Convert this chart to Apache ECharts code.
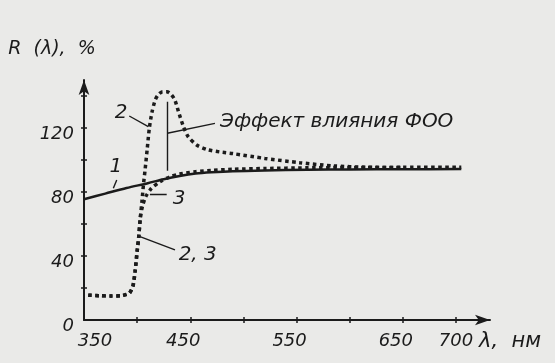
<!DOCTYPE html>
<html><head><meta charset="utf-8">
<script src="https://cdn.jsdelivr.net/npm/echarts@6/dist/echarts.min.js"></script>
<style>html,body{margin:0;padding:0;background:#eaeae8}#c{width:555px;height:363px}</style>
</head><body><div id="c"></div>
<script>
// ---- data ----
const xTickValues = [400, 450, 500, 550, 600, 650, 700];
const xLabelValues = [350, 450, 550, 650, 700];
const yTickValues = [20, 40, 60, 80, 100, 120, 140];
const yLabelValues = [0, 40, 80, 120];

// curve 1 (solid)
const curve1 = [[350,75.5],[370,79],[390,82.5],[410,85.5],[425,88],[440,90],[455,91.5],[470,92.3],[490,93],[520,93.5],[560,93.9],[600,94.1],[650,94.2],[705,94.3]];
// curve 2 (dotted, with peak)
const curve2 = [[354,15.5],[365,15.2],[375,15],[385,15.2],[390,16],[393,17],[396,21],[398,30],[400,43],[401.5,52],[403,64],[404.5,74],[406,85],[407.5,94],[409.5,107],[411.5,120],[414,130],[417,137.5],[420,141],[424,142.7],[428,142.7],[432,141],[435.5,137.5],[439,130],[443.5,121],[448,114.6],[456,109.4],[466,106.5],[478,105],[490,104],[520,101],[553,98.3],[585,96.3],[615,95.5],[650,95.3]];
// curve 3 (dotted, joins curve 1)
const curve3 = [[354,15.5],[365,15.2],[375,15],[385,15.2],[390,16],[393,17],[396,21],[398,30],[400,43],[401.5,52],[403,64],[405,71],[408,77],[413.5,82.3],[421.5,86.4],[431,89.5],[440,91.2],[455,92.7],[470,93.5],[490,94.2],[520,94.7],[560,95.1],[600,95.3],[650,95.4],[705,95.5]];

const annotations = [
  {text: '1', at: [380, 96]},
  {text: '2', at: [385, 129.5]},
  {text: '3', at: [439.5, 76]},
  {text: '2, 3', at: [457, 41]},
  {text: 'Эффект влияния ФОО', at: [478, 124], left: true}
];
const leaders = [
  [[380.8, 87.5], [377.6, 82.3]],
  [[392.6, 127.5], [410.5, 120.8]],
  [[412, 78.6], [427.8, 78.7]],
  [[402.7, 52.1], [435.6, 43.8]],
  [[428.4, 93.3], [428.4, 136.4]],
  [[428.4, 116.7], [473.2, 122.9]]
];

// ---- chart ----
const ink = '#1b1b1b';
const FONT = 'DejaVu Sans';
const txt = {fontFamily: FONT, fontStyle: 'italic', fontSize: 18, color: ink};
const big = {...txt, fontSize: 20};
const chart = echarts.init(document.getElementById('c'));
const dotted = {color: ink, width: 3.5, type: [3.5, 3.5], cap: 'butt'};

chart.setOption({
  backgroundColor: '#eaeae8',
  animation: false,
  grid: {left: 84, right: 65, top: 80, bottom: 43},
  xAxis: [{
    type: 'value', min: 350, max: 732, position: 'bottom',
    axisLine: {show: true, onZero: false, lineStyle: {color: ink, width: 2}, symbol: ['none', 'arrow'], symbolSize: [8, 15]},
    axisTick: {show: true, customValues: xTickValues, length: 3, lineStyle: {color: ink, width: 1.5}},
    axisLabel: {
      customValues: xLabelValues, margin: 12, ...txt,
      formatter: v => v === 350 ? '{o|' + v + '}' : (v === 700 ? '{e|' + v + '}' : '{m|' + v + '}'),
      rich: {
        o: {...txt, padding: [0, 0, 0, 22]},
        m: {...txt, padding: [0, 14, 0, 0]},
        e: {...txt}
      }
    },
    splitLine: {show: false},
    name: '{n|λ,  нм}', nameLocation: 'end', nameGap: -12,
    nameTextStyle: {...txt, rich: {n: {...txt, fontSize: 21, padding: [44, 0, 0, 0]}}}
  }, {
    type: 'value', min: 350, max: 732, position: 'bottom',
    axisLine: {show: false, onZero: false},
    axisTick: {show: true, inside: true, customValues: xTickValues, length: 3, lineStyle: {color: ink, width: 1.5}},
    axisLabel: {show: false}, splitLine: {show: false}
  }],
  yAxis: [{
    type: 'value', min: 0, max: 150, position: 'left',
    axisLine: {show: true, onZero: false, lineStyle: {color: ink, width: 2}, symbol: ['none', 'arrow'], symbolSize: [8, 15]},
    axisTick: {show: true, customValues: yTickValues, length: 3, lineStyle: {color: ink, width: 1.5}},
    axisLabel: {customValues: yLabelValues, margin: 10, ...txt,
      formatter: v => '{y|' + v + '}',
      rich: {y: {...txt, padding: [12, 0, 0, 0]}}},
    splitLine: {show: false},
    name: 'R  (λ),  %', nameLocation: 'end', nameGap: 21,
    nameTextStyle: {...txt, fontSize: 19, align: 'center', padding: [0, 64, 0, 0]}
  }, {
    type: 'value', min: 0, max: 150, position: 'left',
    axisLine: {show: false, onZero: false},
    axisTick: {show: true, inside: true, customValues: yTickValues, length: 3, lineStyle: {color: ink, width: 1.5}},
    axisLabel: {show: false}, splitLine: {show: false}
  }],
  series: [
    {type: 'line', data: curve1, symbol: 'none', smooth: 0.3, lineStyle: {color: ink, width: 2.5}, z: 3},
    {type: 'line', data: curve2, symbol: 'none', smooth: 0.25, lineStyle: dotted, z: 4},
    {type: 'line', data: curve3, symbol: 'none', smooth: 0.25, lineStyle: dotted, z: 4},
    {type: 'lines', coordinateSystem: 'cartesian2d', polyline: false, silent: true,
      data: leaders.map(c => ({coords: c})),
      lineStyle: {color: ink, width: 1.4, opacity: 1}, z: 5},
    {type: 'scatter', symbolSize: 0, silent: true, z: 6, itemStyle: {opacity: 1, color: ink},
      data: annotations.map(a => ({
        value: a.at,
        label: {show: true, formatter: a.text, position: a.left ? 'right' : 'inside', distance: 0, ...big, opacity: 1}
      }))}
  ]
});
</script>
</body></html>
